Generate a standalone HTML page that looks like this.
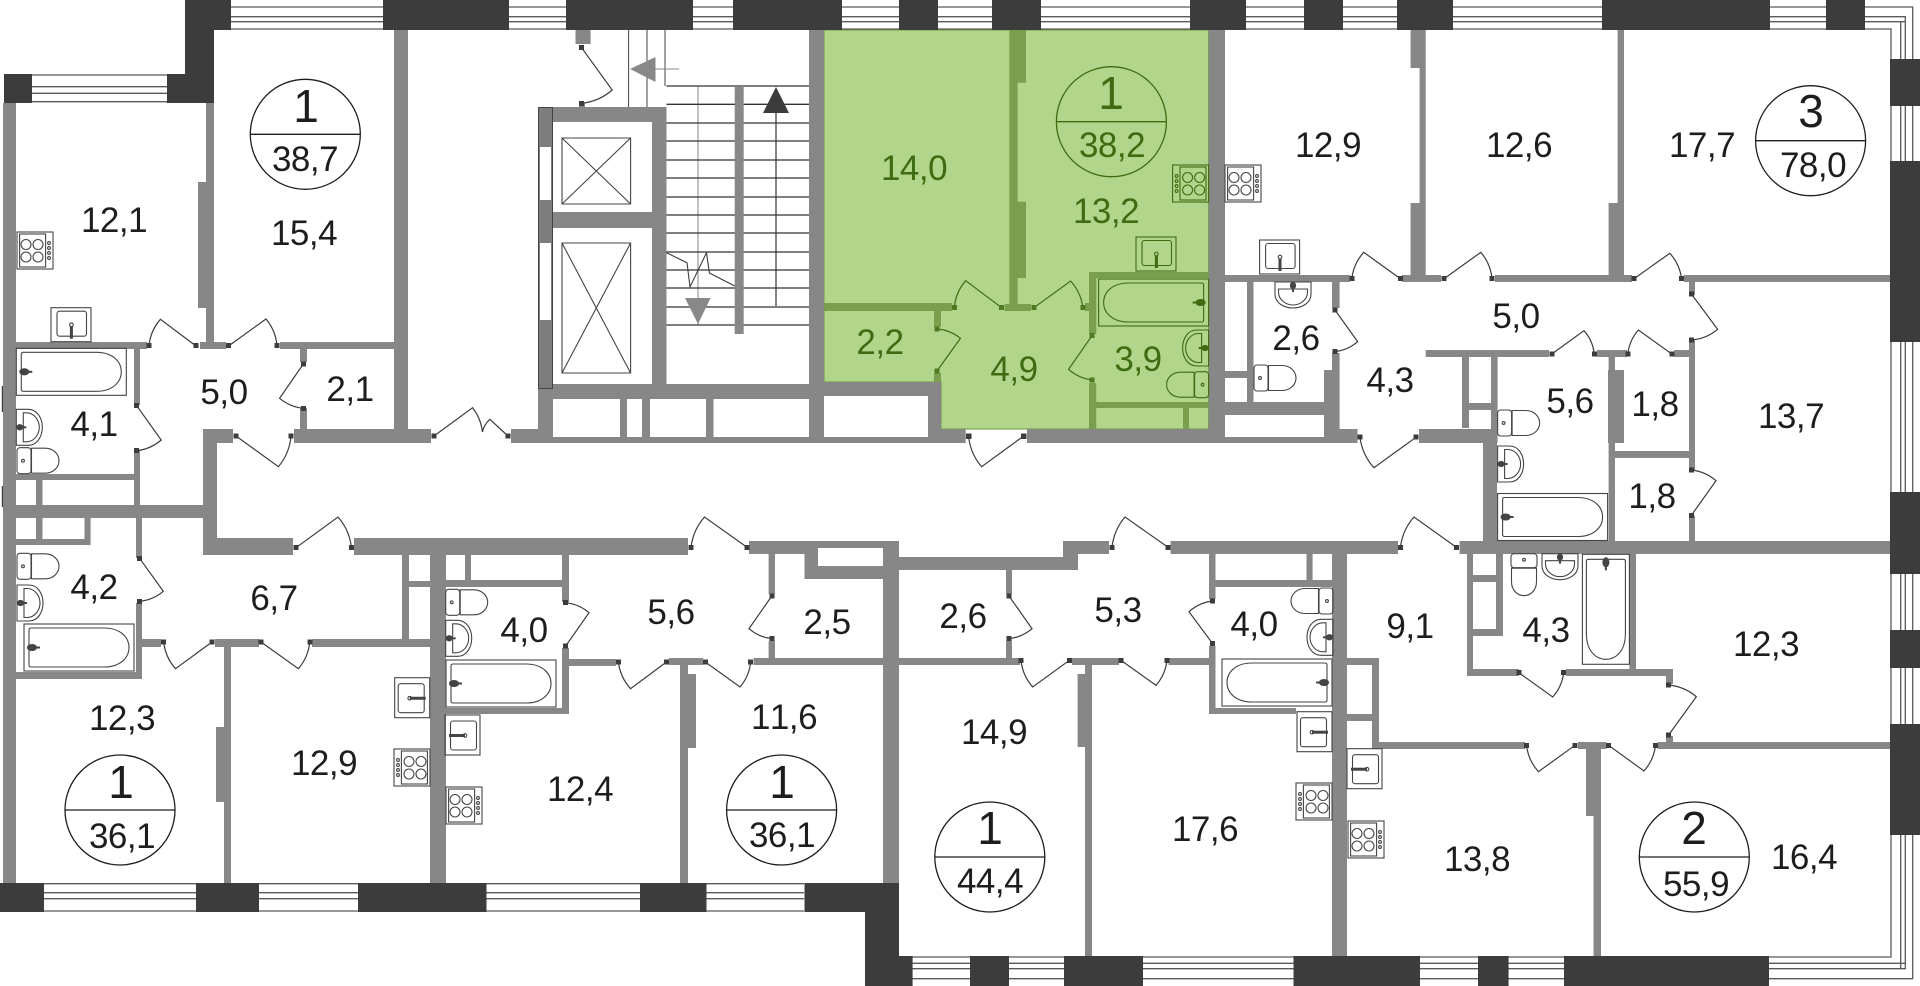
<!DOCTYPE html>
<html><head><meta charset="utf-8"><title>Floor plan</title>
<style>
html,body{margin:0;padding:0;background:#fff}
svg{display:block;position:absolute;left:0;top:0}
text{font-family:"Liberation Sans",sans-serif;font-size:35px;letter-spacing:-.5px;font-kerning:none;text-anchor:middle;fill:#1d1d1b}
text.n{font-size:46px;letter-spacing:0}
.g text{fill:#3f6b12}
.w{fill:none;stroke:#5a5a5a;stroke-width:1.3}
.d{fill:none;stroke:#3c3c3c;stroke-width:1.2}
.dg{fill:none;stroke:#3f6b12;stroke-width:1.2}
.f{fill:none;stroke:#444;stroke-width:1.1;color:#444}
.fg{fill:none;stroke:#3f6b12;stroke-width:1.1;color:#3f6b12}
</style></head><body>
<svg width="1920" height="986" viewBox="0 0 1920 986" xmlns="http://www.w3.org/2000/svg">
<defs>
<g id="stove"><rect width="36" height="37"/><rect x="2.6" y="2" width="26" height="33"/><circle cx="9" cy="12.5" r="5"/><circle cx="21" cy="12.5" r="5"/><circle cx="9" cy="25" r="5"/><circle cx="21" cy="25" r="5"/><circle cx="32" cy="11" r="1.4"/><circle cx="32" cy="16" r="1.4"/><circle cx="32" cy="21" r="1.4"/><circle cx="32" cy="26" r="1.4"/></g>
<g id="sink"><rect width="40" height="34"/><rect x="6" y="3.5" width="29.5" height="25" rx="2.5"/><path d="M20.4 18.5V31" stroke-width="3"/><circle cx="20.4" cy="17" r="1.8"/></g>
<g id="sinkh"><rect width="35" height="40"/><rect x="3.5" y="6" width="26" height="29" rx="2.5"/><path d="M15 20.5H31" stroke-width="3"/><circle cx="15" cy="20.5" r="1.8"/></g>
<g id="bath"><rect width="110" height="47"/><path d="M7 4H80C96 4 105 13 105 23.5C105 34 96 43 80 43H7Q5 43 5 41V6Q5 4 7 4Z"/><ellipse cx="8" cy="23.5" rx="4.5" ry="3" fill="currentColor"/><path d="M12 23.5H16" stroke-width="2"/></g>
<g id="toilet"><rect width="14" height="26" rx="3"/><path d="M14.5 .5H28C37 .5 42 7 42 13C42 19 37 25.5 28 25.5H14.5Z"/><circle cx="6" cy="13" r="1.4"/></g>
<g id="basin"><path d="M0 0H12C21 0 26 9 26 18C26 27 21 36 12 36H0Z"/><path d="M7 3.5H10C18 3.5 23 11 23 18C23 25 18 32.5 10 32.5H7Z"/><ellipse cx="3.5" cy="18" rx="3" ry="2.6" fill="currentColor"/><path d="M6 18H10" stroke-width="2"/></g>
</defs>

<!-- apartment highlight -->
<path d="M824 30H1208.6V429H941V382H824Z" fill="#b1d58a" stroke="#6f9c3f" stroke-width="1"/>

<!-- windows -->
<path class="w" d="M214 7H1912.7V978.7H912M214 16.7H1905.3V968.7H912M214 21.7H1905.3M1900.7 21.7V968.7M214 29H1891V957H912M912 963.3H1905.3"/>
<path class="w" d="M44 883.7H804M44 892.7H804M44 898.7H804M44 911H804M32 75H167M32 86.7H167M32 93.3H167M32 101.7H167"/>

<!-- stair lines -->
<path d="M628.6 30V107M647 30V107M665 30V86M665 252V272" stroke="#444" stroke-width="1" fill="none"/>
<path d="M698 86V325" stroke="#9a9a9a" stroke-width="1.2" fill="none"/>
<path d="M666.5 86H809M666.5 104.3H809M666.5 123H809M666.5 141H809M666.5 160H809M666.5 178H809M666.5 197H809M666.5 215H809M666.5 233H809M666.5 252H809M666.5 270H809M666.5 288H809M666.5 307H809M666.5 325H809" stroke="#333" stroke-width="1.3" fill="none"/>
<path d="M776 100V306" stroke="#333" stroke-width="1.2" fill="none"/>
<path d="M655.5 69H679" stroke="#888" stroke-width="1.1" fill="none"/>
<path d="M630 69L655.5 57V82Z" fill="#888"/>
<path d="M776 87L763 113H789Z" fill="#3c3c3c"/>
<path d="M685 298H710.6L698 324Z" fill="#888"/>
<path d="M734.7 87h9V334h-9Z" fill="#888"/>
<path d="M666.5 252.7L687 262.7L690 287L706.5 252.7L709.4 273L734.7 286" fill="none" stroke="#3c3c3c" stroke-width="1.1"/>

<!-- gray walls -->
<path fill="#878787" d="
M3 103H16V883H3Z M206 103H214V345H206Z M198 182H214V308H198Z M394 30H408V443H394Z
M16 342H147V349H16Z M200 342H226V349H200Z M280 342H408V349H280Z M134 349H140V405H134Z M134 450H140V480H134Z M16 474H140V480H16Z
M300 349H307V362H300Z M300 408H307V430H300Z M294 429H431V443H294Z M511 429H538V443H511Z M538 389H553V443H538Z M203 429H233V443H203Z M203 429H217V555H203Z M203 538H293V555H203Z
M16 505H216V518H16Z M36 480H42.5V505H36Z M134 480H140V505H134Z M36 518H42.5V539H36Z M136 518H142V558H136Z M84.5 518H90.6V545H84.5Z M16 539H90.6V545H16Z
M136 603H142V679H136Z M16 672H142V679H16Z M142 639H161V647H142Z M215 639H259V647H215Z M312 639H431V647H312Z M402 555H409V639H402Z M402 581H431V587H402Z
M430 555H446V883H430Z M354 538H688V555H354Z M465 555H471V581H465Z M562 555H569V602H562Z M446 580H569V587H446Z M562 648H569V714H562Z M446 708H569V714H446Z M569 659H616V666H569Z
M224 647H231V883H224Z M216 727H231V802H216Z M669 658H703V665H669Z M680 665H688V883H680Z M680 674H696V748H680Z
M749 541H818V554H749Z M804.5 541H899V548H804.5Z M804.5 541H818V579H804.5Z M804.5 566H883V579H804.5Z M883 541H899V883H883Z M899 557H1078V570H899Z M1063 541H1078V570H1063Z M1063 541H1109V554H1063Z
M768.6 554H775V594H768.6Z M768.6 641H775V658H768.6Z M753.5 658H1020V665H753.5Z M1006 570H1012V594H1006Z M1006 641H1012V658H1006Z M1072 658H1119V665H1072Z M1168.6 658H1209V665H1168.6Z
M1077.6 674H1092V747H1077.6Z M1085 665H1092V956H1085Z M1209 554H1215.5V599H1209Z M1209 646H1215.5V714H1209Z M1209 708H1296V714H1209Z M1170.6 541H1398V554H1170.6Z M1215 580H1332V587H1215Z M1332 541H1347V956H1332Z M1306.5 554H1312.6V580H1306.5Z
M1459.6 541H1890V554H1459.6Z M1483 443H1497V541H1483Z M1608.6 357H1615V541H1608.6Z M1608 370H1624V443H1608Z M1689 340H1695V470H1689Z M1689 516H1695V541H1689Z
M1425.7 350H1549V357H1425.7Z M1597 350H1627V357H1597Z M1674 350H1695V357H1674Z M1615 451H1689V458H1615Z M1462 357H1469V428H1462Z M1491 357H1497.6V443H1491Z M1469 403H1491V410H1469Z
M1410.6 30H1425.7V68H1410.6Z M1419.6 68H1425.7V203H1419.6Z M1410.6 203H1425.7V282H1410.6Z M1617.6 30H1624V203H1617.6Z M1608.6 203H1624V282H1608.6Z
M1225 275H1350V282H1225Z M1402 275H1441V282H1402Z M1495 275H1632V282H1495Z M1684 275H1890V282H1684Z M1689 282H1695V295H1689Z
M1332 282H1339.6V308H1332Z M1332 353H1339.6V430H1332Z M1324 370H1339.6V443H1324Z M1225 402H1324V415H1225Z M1225 437H1339.6V443H1225Z M1339 429H1357.5V443H1339Z M1419 429H1497V443H1419Z
M1208.6 30H1225V443H1208.6Z M1247 282H1253.5V402H1247Z M1225 371H1247V378H1225Z
M1467 554H1473V676H1467Z M1496 554H1503V635H1496Z M1473 575H1496V582H1473Z M1473 629H1503V636H1473Z M1467 669H1519V676H1467Z M1566 669H1673V676H1566Z M1666 669H1673V684H1666Z M1629.4 554H1636V669H1629.4Z
M1666 736H1673V743H1666Z M1379 742H1525V749H1379Z M1578 742H1606.5V749H1578Z M1657.5 742H1890V749H1657.5Z M1372 658H1379V749H1372Z M1347 658H1379V665H1347Z M1347 714H1379V721H1347Z
M1586 749H1601V816H1586Z M1593.5 816H1601V956H1593.5Z
M553 107H652V122H553Z M553 212H652V228H553Z M553 384H809V399H553Z M652 107H666.5V385H652Z M553 437H928V443H553Z M620 399H627V437H620Z M642 399H650V437H642Z M706 399H713.5V437H706Z
M809 30H824V443H809Z M824 382H941V396H824Z M928 382H941V443H928Z M928 429H965.7V443H928Z M1027 429H1225V443H1027Z M575.5 30H590.6V44H575.5Z M579 103H585V107H579Z"/>

<!-- shaft band -->
<rect x="538.5" y="107.5" width="14" height="281" fill="#7d7d7d" stroke="#444" stroke-width="1"/>
<rect x="540" y="147" width="11" height="53" fill="#fff"/>
<rect x="540" y="243" width="11" height="77" fill="#fff"/>
<path d="M562 138H630.6V204H562ZM562 138L630.6 204M630.6 138L562 204M562 243H630.6V373H562ZM562 243L630.6 373M630.6 243L562 373" fill="none" stroke="#444" stroke-width="1.1"/>

<!-- green walls -->
<path fill="#789e4e" d="M1009.4 30H1026V82.7H1009.4Z M1009.4 82.7H1017.6V304H1009.4Z M1009.4 201.7H1026V278H1009.4Z M824 303H952V311H824Z M1004.5 304H1031V311H1004.5Z M1085 303H1096V311H1085Z M934 311H941V327H934Z M934 373H941V382H934Z M1089 272H1096.3V334H1089Z M1089 383H1096.3V429H1089Z M1089 272H1208.6V278H1089Z M1096 402H1208.6V408H1096Z M1183 408H1189V429H1183Z"/>

<!-- dark walls -->
<path fill="#3c3c3c" d="M185 0H231V30H185Z M185 0H214V103H185Z M4 74H32V103H4Z M167 74H214V103H167Z
M383 0H509V30H383Z M566 0H693V30H566Z M733 0H842V30H733Z M899 0H938V30H899Z M992 0H1041V30H992Z M1190 0H1246V30H1190Z M1304 0H1343V30H1304Z M1397 0H1453V30H1397Z M1602 0H1770V30H1602Z M1826 0H1865V30H1826Z
M1890 59H1920V106H1890Z M1890 161H1920V342H1890Z M1890 492H1920V574H1890Z M1890 630H1920V668H1890Z M1890 724H1920V835H1890Z
M0 883H44V912H0Z M196 883H259V912H196Z M358 883H486.5V912H358Z M640 883H706.5V912H640Z M804.5 883H899V912H804.5Z M865 912H899V986H865Z M865 956H912.6V986H865Z
M970 956H1009V986H970Z M1064 956H1143V986H1064Z M1293.5 956H1420V986H1293.5Z M1478 956H1508.6V986H1478Z M1564 956H1769V986H1564Z M1.8 386H3V412H1.8Z M1.8 486H3V507H1.8Z"/>

<!-- fixtures -->
<g class="f">
<use href="#stove" transform="translate(17,232)"/>
<use href="#stove" transform="translate(1225,165)"/>
<use href="#stove" transform="translate(430,749) scale(-1,1)"/>
<use href="#stove" transform="translate(446,787)"/>
<use href="#stove" transform="translate(1332,783) scale(-1,1)"/>
<use href="#stove" transform="translate(1348,821)"/>
<use href="#sink" transform="translate(51,307.7)"/>
<use href="#sink" transform="translate(1259.6,240)"/>
<use href="#sinkh" transform="translate(394.7,677.7)"/>
<use href="#sinkh" transform="translate(480,715) scale(-1,1)"/>
<use href="#sinkh" transform="translate(1297,711.7)"/>
<use href="#sinkh" transform="translate(1382,748.7) scale(-1,1)"/>
<use href="#bath" transform="translate(16.3,348.3)"/>
<use href="#bath" transform="translate(24,624)"/>
<use href="#bath" transform="translate(446,660)"/>
<use href="#bath" transform="translate(1332,659) scale(-1,1)"/>
<use href="#bath" transform="translate(1497.6,493.5)"/>
<use href="#bath" transform="translate(1629.4,554.3) rotate(90)"/>
<use href="#toilet" transform="translate(17,447.7)"/>
<use href="#toilet" transform="translate(17,553.3)"/>
<use href="#toilet" transform="translate(445.7,589.3)"/>
<use href="#toilet" transform="translate(1333,588) scale(-1,1)"/>
<use href="#toilet" transform="translate(1497.6,410)"/>
<use href="#toilet" transform="translate(1254,365)"/>
<use href="#toilet" transform="translate(1537,553.7) rotate(90)"/>
<use href="#basin" transform="translate(16.3,409.3)"/>
<use href="#basin" transform="translate(17,585)"/>
<use href="#basin" transform="translate(445.7,620.3)"/>
<use href="#basin" transform="translate(1333,619.3) scale(-1,1)"/>
<use href="#basin" transform="translate(1497.6,446)"/>
<use href="#basin" transform="translate(1311,282) rotate(90)"/>
<use href="#basin" transform="translate(1578,553.7) rotate(90)"/>
</g>
<g class="fg">
<use href="#stove" transform="translate(1208.6,165) scale(-1,1)"/>
<use href="#sink" transform="translate(1136,237)"/>
<use href="#bath" transform="translate(1208.6,279) scale(-1,1)"/>
<use href="#toilet" transform="translate(1208.6,371.7) scale(-1,1)"/>
<use href="#basin" transform="translate(1208.6,330) scale(-1,1)"/>
</g>

<!-- doors -->
<path class="d" d="M196 346L160.4 319.3A47 47 0 0 0 149 346M228.6 346L266 319A48 48 0 0 1 277 346M303.3 364L279.6 398.3A44 44 0 0 0 303.3 408.3M136.7 405.7L161.2 440A45 45 0 0 1 136.7 450.7M236 436L278.4 466.7A55 55 0 0 0 291 436M434 436L472.6 407.7A48 48 0 0 1 482.4 432M508 436L489.8 419.3A25 25 0 0 0 482.4 432
M296 547.7L338 517A55 55 0 0 1 351.4 547.7M139.6 558.3L163.3 591.3A43 43 0 0 1 139.6 601.3M212 642L175.5 668.7A48 48 0 0 1 163.7 642M261 642L298.4 668.7A49 49 0 0 0 309.8 642M565.7 646L589 612.7A43 43 0 0 0 565.7 602.7M666.5 662L630.6 688.7A48 48 0 0 1 618.4 662
M705.3 662L740 687A45 45 0 0 0 750.6 662M747 547.3L704.5 517A56 56 0 0 0 691 547.3M771.8 596L749 628.7A43 43 0 0 0 771.8 638.7M1009 596L1032 628.7A43 43 0 0 1 1009 638.7M1069.4 660.3L1032.7 687A48 48 0 0 1 1021 660.3M1120.8 660.3L1156 685.3A46 46 0 0 0 1167 660.3M1168 547.3L1125 517A56 56 0 0 0 1112 547.3M1212.7 643.7L1189 611.7A43 43 0 0 1 1212.7 601
M1456.3 547.3L1414 517A56 56 0 0 0 1400.4 547.3M1518.8 672.7L1552.7 697A45 45 0 0 0 1563.7 672.7M1668.6 735L1696.3 696.7A50 50 0 0 0 1668.6 685M1575 745.3L1538.4 771.7A48 48 0 0 1 1526.5 745.3M1608.6 745.3L1644 771A47 47 0 0 0 1655.5 745.3M1691.4 515.3L1716 480.7A45 45 0 0 0 1691.4 470
M1400.4 278.7L1363.7 252.3A48 48 0 0 0 1351.8 278.7M1444 278.7L1480.8 252.3A48 48 0 0 1 1492 278.7M1634 278.7L1669.8 253.3A47 47 0 0 1 1681.6 278.7M1691.4 294L1717.6 329.3A46 46 0 0 1 1691.4 340M1551.8 354L1584 330.7A42 42 0 0 1 1594.3 354M1671.8 354L1638.4 330A44 44 0 0 0 1627.8 354M1335 310L1357.6 341.7A42 42 0 0 1 1335 351.7M1416 437.3L1373.9 467.7A56 56 0 0 1 1360 437.3
M1023.7 436L981.6 466.7A55 55 0 0 1 968.6 436M581.6 47.7L612.2 90A55 55 0 0 1 581.6 103.3"/>
<path class="dg" d="M1001.6 307.7L965.7 280.7A47 47 0 0 0 954.3 307.7M1033.9 307.7L1070.6 281A49 49 0 0 1 1082.9 307.7M937 371L960.4 338.3A42 42 0 0 0 937 329M1092 335.7L1068.6 369.3A44 44 0 0 0 1092 380"/>
<path fill="#3c3c3c" d="M193.5 343h5v5h-5ZM146.5 343h5v5h-5ZM226 343h5v5h-5ZM274.5 343h5v5h-5ZM301 361.5h5v5h-5ZM301 406h5v5h-5ZM134 403h5v5h-5ZM134 448h5v5h-5ZM233.5 433.5h5v5h-5ZM288.5 433.5h5v5h-5ZM431.5 433.5h5v5h-5ZM505.5 433.5h5v5h-5Z
M293.5 545h5v5h-5ZM349 545h5v5h-5ZM137 556h5v5h-5ZM137 599h5v5h-5ZM209.5 639.5h5v5h-5ZM161 639.5h5v5h-5ZM258.5 639.5h5v5h-5ZM307.5 639.5h5v5h-5ZM563 643.5h5v5h-5ZM563 600h5v5h-5ZM664 659.5h5v5h-5ZM616 659.5h5v5h-5Z
M703 659.5h5v5h-5ZM748 659.5h5v5h-5ZM744.5 545h5v5h-5ZM688.5 545h5v5h-5ZM769.5 593.5h5v5h-5ZM769.5 636h5v5h-5ZM1006.5 593.5h5v5h-5ZM1006.5 636h5v5h-5ZM1067 658h5v5h-5ZM1018.5 658h5v5h-5ZM1118.5 658h5v5h-5ZM1164.5 658h5v5h-5ZM1165.5 545h5v5h-5ZM1109.5 545h5v5h-5ZM1210 641h5v5h-5ZM1210 598.5h5v5h-5Z
M1454 545h5v5h-5ZM1398 545h5v5h-5ZM1516.5 670h5v5h-5ZM1561 670h5v5h-5ZM1666 732.5h5v5h-5ZM1666 682.5h5v5h-5ZM1572.5 743h5v5h-5ZM1524 743h5v5h-5ZM1606 743h5v5h-5ZM1653 743h5v5h-5ZM1689 513h5v5h-5ZM1689 467.5h5v5h-5Z
M1398 276h5v5h-5ZM1349.5 276h5v5h-5ZM1441.5 276h5v5h-5ZM1489.5 276h5v5h-5ZM1631.5 276h5v5h-5ZM1679 276h5v5h-5ZM1689 291.5h5v5h-5ZM1689 337.5h5v5h-5ZM1549.5 351.5h5v5h-5ZM1592 351.5h5v5h-5ZM1669.5 351.5h5v5h-5ZM1625.5 351.5h5v5h-5ZM1332.5 307.5h5v5h-5ZM1332.5 349h5v5h-5ZM1413.5 434.5h5v5h-5ZM1357.5 434.5h5v5h-5Z
M1021 433.5h5.5v5.5h-5.5ZM966 433.5h5.5v5.5h-5.5ZM579 45h5v5h-5ZM579 101h5v5h-5Z"/>
<path fill="#4f7a22" d="M999 305h5v5h-5ZM952 305h5v5h-5ZM1031.5 305h5v5h-5ZM1080.5 305h5v5h-5ZM934.5 368.5h5v5h-5ZM934.5 326.5h5v5h-5ZM1089.5 333h5v5h-5ZM1089.5 377.5h5v5h-5Z"/>

<!-- circles -->
<g fill="none" stroke="#1d1d1b" stroke-width="1.3">
<circle cx="305.3" cy="134.3" r="55"/><path d="M250.3 134.3H360.3"/>
<circle cx="1810.6" cy="140.7" r="55"/><path d="M1755.6 140.7H1865.6"/>
<circle cx="120" cy="810" r="55"/><path d="M65 810H175"/>
<circle cx="781.6" cy="810" r="55"/><path d="M726.6 810H836.6"/>
<circle cx="989.8" cy="857" r="55"/><path d="M934.8 857H1044.8"/>
<circle cx="1694.3" cy="857" r="55"/><path d="M1639.3 857H1749.3"/>
</g>
<g fill="none" stroke="#3f6b12" stroke-width="1.3"><circle cx="1111.4" cy="121.7" r="55"/><path d="M1056.4 121.7H1166.4"/></g>

<!-- labels -->
<g>
<text x="114" y="232">12,1</text>
<text x="304" y="245">15,4</text>
<text x="224" y="404">5,0</text>
<text x="350" y="401">2,1</text>
<text x="94" y="436">4,1</text>
<text class="n" x="306" y="122">1</text><text x="305" y="171">38,7</text>
<text x="1328" y="157">12,9</text>
<text x="1519" y="157">12,6</text>
<text x="1702" y="157">17,7</text>
<text class="n" x="1811" y="127">3</text><text x="1813" y="177">78,0</text>
<text x="1516" y="328">5,0</text>
<text x="1296" y="350">2,6</text>
<text x="1390" y="392">4,3</text>
<text x="1570" y="413">5,6</text>
<text x="1655" y="416">1,8</text>
<text x="1791" y="428">13,7</text>
<text x="1652" y="508">1,8</text>
<text x="94" y="599">4,2</text>
<text x="274" y="610">6,7</text>
<text x="524" y="642">4,0</text>
<text x="122" y="730">12,3</text>
<text x="324" y="775">12,9</text>
<text x="580" y="801">12,4</text>
<text class="n" x="121" y="798">1</text><text x="122" y="848">36,1</text>
<text x="671" y="624">5,6</text>
<text x="827" y="634">2,5</text>
<text x="963" y="628">2,6</text>
<text x="1118" y="622">5,3</text>
<text x="1254" y="636">4,0</text>
<text x="784" y="729">11,6</text>
<text x="994" y="744">14,9</text>
<text x="1205" y="841">17,6</text>
<text class="n" x="782" y="798">1</text><text x="782" y="847">36,1</text>
<text class="n" x="990" y="844">1</text><text x="990" y="893">44,4</text>
<text x="1410" y="638">9,1</text>
<text x="1546" y="642">4,3</text>
<text x="1766" y="656">12,3</text>
<text x="1477" y="871">13,8</text>
<text x="1804" y="869">16,4</text>
<text class="n" x="1694" y="844">2</text><text x="1696" y="896">55,9</text>
</g>
<g class="g">
<text x="914" y="180">14,0</text>
<text x="1106" y="223">13,2</text>
<text x="880" y="354">2,2</text>
<text x="1014" y="381">4,9</text>
<text x="1138" y="371">3,9</text>
<text class="n" x="1111" y="109">1</text><text x="1112" y="157">38,2</text>
</g>
</svg>
</body></html>
